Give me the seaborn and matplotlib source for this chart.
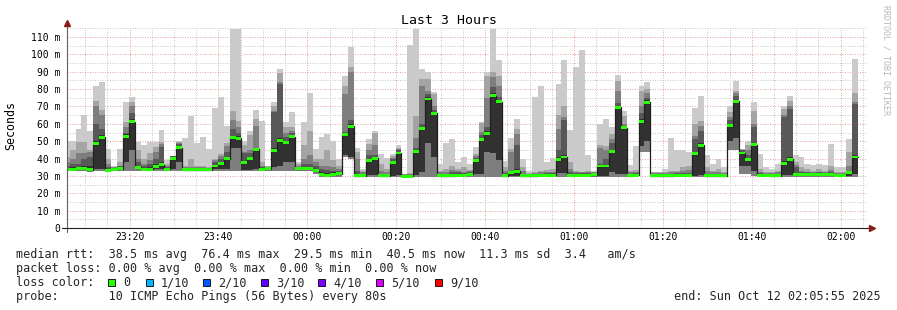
import numpy as np
import pandas as pd
import matplotlib
matplotlib.use("Agg")
import matplotlib.pyplot as plt
import seaborn as sns
from matplotlib.patches import Rectangle
from matplotlib.lines import Line2D

# ---------------- data ----------------
title = "Last 3 Hours"
ylabel = "Seconds"
step_minutes = 80 / 60            # one probe round every 80 s
first_step = 5.175                # minutes after 23:00 where the first (partial) step begins
view_start, view_end = 5.917, 185.917   # 23:05:55 .. 02:05:55 in minutes after 23:00

xtick_pos = [20, 40, 60, 80, 100, 120, 140, 160, 180]
xtick_labels = ["23:20", "23:40", "00:00", "00:20", "00:40", "01:00", "01:20", "01:40", "02:00"]
ytick_vals = [0, 10, 20, 30, 40, 50, 60, 70, 80, 90, 100, 110]
ytick_labels = ["0", "10 m", "20 m", "30 m", "40 m", "50 m", "60 m", "70 m", "80 m", "90 m", "100 m", "110 m"]

# median rtt per step (ms)
med = [33.8, 33.8, 34.0, 34.0, 33.5, 48.5, 52.3, 33.2, 33.8, 34.2,
       52.7, 61.3, 35.0, 33.8, 33.8, 35.5, 36.5, 33.8, 40.0, 46.2,
       33.6, 33.6, 33.6, 33.6, 33.6, 35.7, 37.0, 40.0, 52.3, 51.8,
       37.8, 40.0, 45.3, 33.8, 34.2, 44.7, 50.4, 49.1, 52.7, 34.2,
       34.2, 34.0, 32.9, 30.9, 30.4, 31.0, 31.3, 53.7, 58.5, 30.0,
       30.0, 39.0, 40.3, 30.0, 30.0, 38.0, 43.2, 29.8, 29.8, 44.1,
       57.1, 74.3, 66.0, 30.0, 30.0, 30.2, 30.4, 30.4, 30.9, 38.8,
       51.0, 54.2, 76.2, 72.7, 30.0, 31.7, 32.7, 30.0, 30.0, 30.2,
       30.4, 30.4, 30.4, 39.3, 40.9, 30.4, 30.4, 30.4, 30.4, 30.8,
       35.7, 35.7, 44.3, 69.5, 57.7, 30.0, 30.4, 61.3, 72.4, 30.0,
       30.0, 30.0, 30.0, 30.4, 30.4, 30.4, 42.8, 47.6, 30.0, 30.0,
       30.0, 30.0, 59.0, 73.0, 43.2, 39.7, 47.9, 30.4, 30.4, 30.0,
       30.0, 37.4, 39.7, 30.9, 30.9, 30.9, 30.9, 30.9, 30.9, 30.9,
       30.4, 30.4, 31.7, 40.9]

# sorted ping values per step (ms): p1 = fastest ... p10 = slowest
p10 = [50, 50, 57, 65, 56, 82, 84, 45.6, 35.5, 45.6,
       72.8, 75.3, 49.5, 48, 49.8, 49.8, 56.7, 39, 41.6, 50,
       52, 64.4, 49, 52.7, 45.3, 69, 75.2, 59, 114.4, 114.4,
       50.4, 56, 68.2, 61.9, 36, 72.8, 91.5, 61.3, 67, 38,
       61, 78, 45.3, 52.3, 54.2, 50.4, 39.5, 87.7, 104, 46.2,
       34, 51, 56, 42.4, 40.5, 42.8, 47.6, 31.3, 105.4, 114.4,
       91.5, 90, 78.5, 37, 49, 51, 38, 40.9, 37, 46.6,
       61.3, 89.6, 114.4, 97, 38.6, 51.8, 62.5, 39.9, 33, 75.2,
       82, 38, 40.3, 83, 96.7, 56.5, 92.8, 102.4, 41.8, 32.8,
       59.8, 62.8, 58.4, 88.2, 67.6, 36.1, 47, 82, 84.2, 32.3,
       32.3, 34.2, 52, 44.7, 44.7, 43.7, 69, 76.2, 41.8, 37,
       40, 35.1, 70.5, 84.8, 45.6, 50.4, 72.8, 42.8, 35.1, 34.2,
       37, 70.5, 76.2, 41.8, 40.9, 37, 36.1, 37, 36.1, 48.5,
       35.1, 35.1, 51.4, 97.2]
p9 = [41, 45, 49.5, 49.5, 45, 73, 68, 40, 35, 38,
      61, 72.8, 44.7, 40, 43, 46.6, 49.5, 37, 41.4, 49.5,
      35.5, 40, 35.5, 35.5, 35, 40, 42.8, 49, 67.6, 61.9,
      48, 53.3, 62.8, 38, 35.6, 70, 89, 58, 58, 37,
      48, 55.6, 40, 40, 45, 39, 36, 82, 93, 44,
      33, 48.5, 54.8, 37, 34, 41.5, 46, 31, 31.5, 64.8,
      85.8, 86, 77, 33, 33.8, 36, 34, 35, 33.5, 42.8,
      60.5, 87.5, 89.6, 87.7, 35, 45.3, 57, 35, 31.5, 32,
      33, 33.5, 34, 65, 70, 38, 33, 32.5, 33, 32.5,
      47.6, 47, 54.3, 84.8, 64.7, 33, 33.2, 79, 80, 32,
      32, 32.5, 33, 33, 35, 36, 60, 61.9, 35, 33,
      34, 32, 66.7, 79, 45.3, 48, 67.6, 34, 32.5, 32,
      33, 68.5, 73.3, 38, 35, 34, 33, 34, 33, 36,
      32.5, 32.5, 44, 78]
p8 = [38, 40, 43, 43, 44, 70, 65, 37, 35, 36,
      58, 70, 40, 37, 39, 43.7, 48.5, 36, 41.4, 49,
      35, 35, 35, 35, 34.5, 39, 41.5, 47, 62, 58,
      43.7, 45, 59, 36, 35.3, 67.6, 84, 55, 56, 36,
      40, 42, 38, 36, 36, 35, 34, 77, 90, 40,
      32, 45, 48, 33, 32, 40.5, 45.5, 31, 31, 52,
      82, 79, 70, 32, 32.5, 33.5, 33, 32.5, 33, 41.5,
      55.2, 75, 87, 82, 33, 43.5, 54, 33, 31, 31.5,
      32, 32.5, 32.5, 57, 64, 34, 32, 32, 32, 32.2,
      46, 45, 51, 79, 60, 32, 32, 70.5, 78, 31.5,
      31.5, 31.5, 32, 32, 33, 33.5, 53, 59, 33, 32,
      32, 31.5, 64, 77.5, 45, 45, 60, 32, 31.5, 31.5,
      32, 65, 70, 36.5, 33, 32.5, 32, 32.5, 32, 33.5,
      31.5, 31.5, 36, 72.5]
p7 = [36, 37, 37, 40, 41, 60, 57, 35, 34.6, 35.5,
      55, 66, 38, 35.5, 37, 40, 46.6, 35, 41.2, 48.5,
      34.5, 34.5, 34.5, 34.5, 34.3, 38, 40, 44, 57, 55,
      43, 43, 46.3, 35, 35, 67, 83, 52.5, 54.5, 35,
      37, 37, 36, 34, 33.5, 33, 33, 55.5, 62, 33,
      31, 42, 42, 31, 31, 39.5, 45, 30.5, 30.5, 46,
      60, 77, 68, 31, 31, 32, 32, 31.5, 32, 40.5,
      53.5, 58, 81, 75.5, 31.5, 33, 47.6, 31, 30.6, 31,
      31.2, 31.5, 31.5, 45, 62, 32, 31.5, 31.5, 31.5, 31.8,
      37, 40, 49, 72, 59, 31, 31.5, 66, 75, 31,
      31, 31, 31, 31.5, 31.5, 31.5, 51.4, 56.1, 31, 31,
      31, 31, 62, 76.2, 44.7, 42, 58, 31.5, 31.2, 31,
      31, 63.8, 68.6, 35, 32, 32, 31.5, 32, 31.5, 32,
      31, 31, 33, 71.4]
p6 = [34.5, 35, 35, 36, 36, 50, 53.5, 34, 34.3, 35,
      54, 63, 36, 34.5, 35, 37, 38, 34.3, 41, 47.5,
      34, 34, 34, 34, 34, 36.5, 38, 41, 53, 53,
      38.5, 41, 46, 34.3, 34.5, 46, 52, 50, 53.5, 34.8,
      35, 35, 34, 32, 31.5, 32, 32, 54.5, 60, 31,
      30.5, 40, 41, 30.5, 30.5, 38.5, 44, 30.2, 30.2, 45,
      58, 75.5, 67, 30.5, 30.5, 31, 31, 31, 31.5, 39.5,
      52, 56, 77.5, 73.5, 30.5, 32.5, 34, 30.5, 30.3, 30.5,
      30.8, 31, 31, 41, 42, 31, 31, 31, 31, 31.3,
      36.5, 36.5, 45, 70.5, 58.5, 30.5, 31, 62.5, 73.5, 30.5,
      30.5, 30.5, 30.5, 31, 31, 31, 44, 49, 30.5, 30.5,
      30.5, 30.5, 60, 74, 44, 40.5, 49, 31, 31, 30.5,
      30.5, 38.5, 41, 31.5, 31.5, 31.5, 31.5, 31.5, 31.5, 31.5,
      31, 31, 32.3, 42]
p5 = [33.3, 33.3, 33.5, 33.5, 33, 34, 34, 33, 33.3, 33.5,
      38, 45, 34, 33.3, 33.3, 34, 34, 33.3, 34, 38,
      33.3, 33.3, 33.3, 33.3, 33.3, 34, 34, 34, 46, 46,
      33.5, 33.5, 34, 33.3, 33.3, 35, 36, 38, 38, 33.3,
      33.3, 33.3, 32, 30, 29.8, 30, 30.5, 42, 41, 29.8,
      29.8, 30.5, 30.5, 29.8, 29.8, 30, 30.5, 29.5, 29.5, 30.5,
      32, 49, 41, 29.8, 29.8, 29.8, 29.8, 29.8, 30, 31,
      31, 44, 43, 39, 29.8, 30, 30, 29.8, 29.8, 29.8,
      29.8, 29.8, 29.8, 31.5, 31.5, 29.8, 29.8, 29.8, 29.8, 30,
      30, 30, 32, 31, 31, 29.8, 29.8, 47, 50, 29.8,
      29.8, 29.8, 29.8, 29.8, 29.8, 29.8, 30, 30.5, 29.8, 29.8,
      29.8, 29.8, 50, 52, 36, 36, 33, 29.8, 29.8, 29.8,
      29.8, 30.5, 30.5, 30, 30, 30, 30, 30, 30, 30,
      29.8, 29.8, 30, 31]
p1 = [33, 33, 33, 33, 32.5, 33, 33, 32.5, 33, 33,
      33, 33, 33, 33, 33, 33, 33, 33, 33, 33,
      33, 33, 33, 33, 33, 33, 33, 33, 33, 33,
      33, 33, 33, 33, 33, 33, 33, 33, 33, 33,
      33, 33, 31, 29.5, 29.3, 29.5, 29.5, 41, 40, 29.5,
      29.5, 29.5, 29.5, 29.5, 29.5, 29.5, 29.5, 29.5, 29.5, 29.5,
      29.5, 29.5, 29.5, 29.5, 29.5, 29.5, 29.5, 29.5, 29.5, 29.5,
      29.5, 29.5, 29.5, 29.5, 29.5, 29.5, 29.5, 29.5, 29.5, 29.5,
      29.5, 29.5, 29.5, 29.5, 29.5, 29.5, 29.5, 29.5, 29.5, 29.5,
      29.5, 29.5, 29.5, 29.5, 29.5, 29.5, 29.5, 44, 44, 29.5,
      29.5, 29.5, 29.5, 29.5, 29.5, 29.5, 29.5, 29.5, 29.5, 29.5,
      29.5, 29.5, 45, 45, 31, 31, 30, 29.5, 29.5, 29.5,
      29.5, 29.5, 29.5, 29.5, 29.5, 29.5, 29.5, 29.5, 29.5, 29.5,
      29.5, 29.5, 29.5, 29.5]

legend_rtt = "median rtt:  38.5 ms avg  76.4 ms max  29.5 ms min  40.5 ms now  11.3 ms sd  3.4   am/s"
legend_loss = "packet loss: 0.00 % avg  0.00 % max  0.00 % min  0.00 % now"
legend_color = "loss color:"
legend_probe = "probe:       10 ICMP Echo Pings (56 Bytes) every 80s"
legend_end = "end: Sun Oct 12 02:05:55 2025"
loss_labels = ["0", "1/10", "2/10", "3/10", "4/10", "5/10", "9/10"]
loss_colors = ["#26ff00", "#00b8ff", "#0059ff", "#5e00ff", "#7e00ff", "#dd00ff", "#ff0000"]
credit = "RRDTOOL / TOBI OETIKER"

n = len(med)
for arr in (p1, p5, p6, p7, p8, p9, p10):
    assert len(arr) == n

# ---------------- figure ----------------
sns.set_theme(style="white")
plt.rcParams["font.family"] = ["DejaVu Sans Mono"]
plt.rcParams["axes.unicode_minus"] = False

W, H = 897, 310
fig = plt.figure(figsize=(W / 100, H / 100), dpi=100, facecolor="white")
ax = fig.add_axes([67 / W, (H - 228) / H, 800 / W, 200 / H])
ax.set_facecolor("white")


def fx(x):
    return x / W


def fy(y):
    return 1 - y / H


edges = first_step + step_minutes * np.arange(n + 1)


def ext(a):
    a = np.asarray(a, dtype=float)
    return np.append(a, a[-1])


# smoke layers (outermost pair lightest)
smoke = [(p1, p10, "#cacaca"), (p1, p9, "#a4a4a4"), (p1, p8, "#7e7e7e"),
         (p5, p7, "#585858"), (p5, p6, "#323232")]
for lo, hi, col in smoke:
    ax.fill_between(edges, ext(lo), ext(hi), step="post", color=col,
                    linewidth=0, antialiased=False, zorder=1)

# median line
df = pd.DataFrame({"t": edges, "median": ext(med)})
sns.lineplot(data=df, x="t", y="median", ax=ax, drawstyle="steps-post",
             color="#202020", linewidth=0.9, estimator=None, sort=False,
             legend=False, zorder=2)

# loss-coloured median marker
mm = ext(med)
ax.fill_between(edges, mm - 0.85, mm + 0.85, step="post", color=loss_colors[0],
                linewidth=0, antialiased=False, zorder=3)

ax.set_xlim(view_start, view_end)
ax.set_ylim(0, 115.2)
ax.set_xticks(xtick_pos)
ax.set_xticklabels(xtick_labels)
ax.set_xticks(np.arange(10, 190, 5), minor=True)
ax.set_yticks(ytick_vals)
ax.set_yticklabels(ytick_labels)
ax.set_yticks(np.arange(5, 120, 10), minor=True)
ax.set_axisbelow(True)
ax.grid(which="major", color="#eaa4a4", linestyle=(0, (1, 1.5)), linewidth=0.72)
ax.grid(which="minor", color="#c8c8c8", linestyle=(0, (1, 1.5)), linewidth=0.72)
ax.tick_params(which="both", length=0)
ax.tick_params(axis="y", pad=5, labelsize=7, colors="black")
ax.tick_params(axis="x", pad=3, labelsize=7, colors="black")
ax.set_xlabel("")
ax.set_ylabel("")
for s in ax.spines.values():
    s.set_visible(False)

# axes lines and arrows
fig.add_artist(Line2D([fx(67), fx(67)], [fy(232), fy(24)], color="#606060", lw=0.8))
fig.add_artist(Line2D([fx(62), fx(870)], [fy(228), fy(228)], color="#202020", lw=0.8))
fig.add_artist(Line2D([fx(67)], [fy(22.5)], marker="^", color="#8b1a1a",
                      markersize=4.5, lw=0))
fig.add_artist(Line2D([fx(871.5)], [fy(228)], marker=">", color="#8b1a1a",
                      markersize=4.5, lw=0))

# texts
fig.text(0.5, fy(20), title, ha="center", va="center", fontsize=9.5, color="black")
fig.text(fx(10.5), fy(126), ylabel, rotation=90, ha="center", va="center",
         fontsize=8.4, color="black")
fig.text(fx(886), fy(60), credit, rotation=270, ha="center", va="center",
         fontsize=6, color="#b8b8b8")

LF = 8.44
fig.text(fx(16), fy(258.3), legend_rtt, ha="left", va="baseline", fontsize=LF)
fig.text(fx(16), fy(272.1), legend_loss, ha="left", va="baseline", fontsize=LF)
fig.text(fx(16), fy(286.0), legend_color, ha="left", va="baseline", fontsize=LF)
fig.text(fx(16), fy(299.8), legend_probe, ha="left", va="baseline", fontsize=LF)
fig.text(fx(881), fy(299.8), legend_end, ha="right", va="baseline", fontsize=LF)

sq_x = [108, 145.7, 202.7, 261, 318.3, 376, 435]
for xs, col, lab in zip(sq_x, loss_colors, loss_labels):
    fig.add_artist(Rectangle((fx(xs), fy(286)), 7 / W, 7 / H, transform=fig.transFigure,
                             facecolor=col, edgecolor="black", linewidth=0.6))
    fig.text(fx(xs + 15.3), fy(286.0), lab, ha="left", va="baseline", fontsize=LF)

fig.savefig("out.png", dpi=100, facecolor="white")
